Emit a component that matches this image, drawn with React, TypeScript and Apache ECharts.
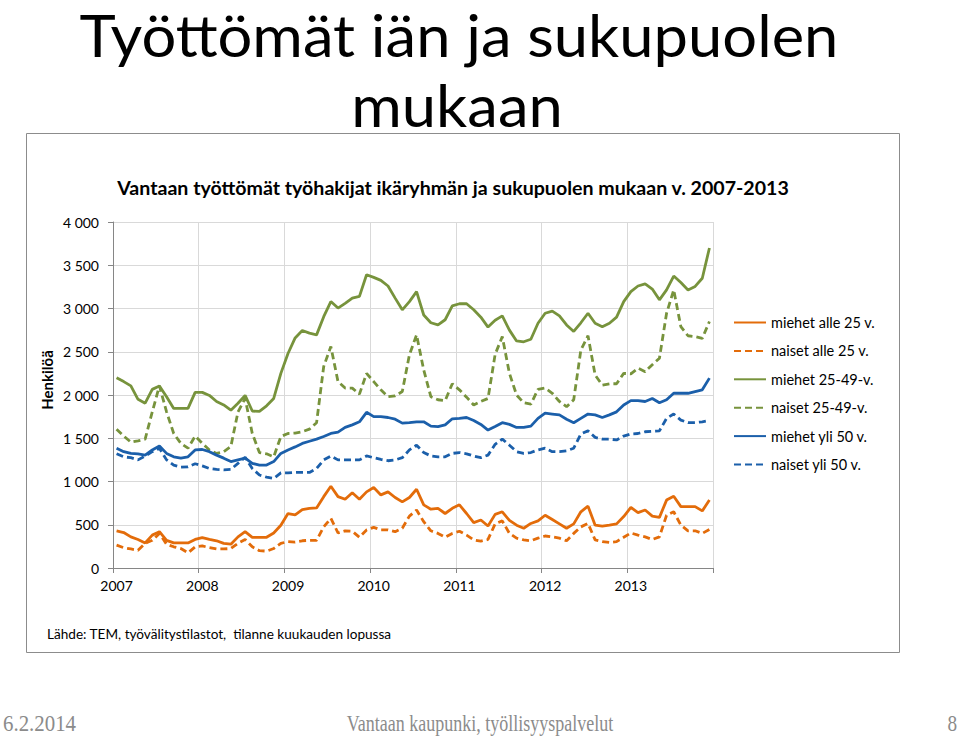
import React, { useEffect, useRef } from "react";
import * as echarts from "echarts";

const years = ["2007", "2008", "2009", "2010", "2011", "2012", "2013"];
const months = ["01", "02", "03", "04", "05", "06", "07", "08", "09", "10", "11", "12"];
const categories: string[] = [];
years.forEach((y) => months.forEach((m) => categories.push(y + "-" + m)));

const seriesNames = [
  "miehet alle 25 v.",
  "naiset alle 25 v.",
  "miehet 25-49-v.",
  "naiset 25-49-v.",
  "miehet yli 50 v.",
  "naiset yli 50 v.",
];

const miehetAlle25 = [
  430, 410, 360, 330, 290, 380, 420, 320, 290, 290, 290, 330,
  350, 330, 315, 285, 275, 360, 420, 355, 355, 355, 405, 495,
  630, 615, 675, 690, 695, 825, 945, 825, 795, 870, 795, 880,
  930, 845, 880, 815, 765, 815, 910, 730, 680, 690, 630, 690,
  730, 630, 525, 555, 485, 620, 650, 550, 495, 460, 515, 545,
  610, 560, 510, 460, 510, 650, 715, 495, 485, 495, 510, 595,
  700, 640, 670, 600, 585, 785, 830, 710, 710, 710, 660, 785,
];
const naisetAlle25 = [
  265, 235, 220, 205, 285, 320, 400, 275, 245, 225, 175, 245,
  255, 235, 220, 220, 225, 285, 330, 245, 200, 195, 225, 285,
  305, 300, 315, 320, 320, 475, 575, 405, 430, 425, 355, 440,
  470, 440, 440, 420, 460, 600, 670, 535, 430, 400, 355, 400,
  425, 380, 325, 310, 330, 510, 545, 400, 345, 325, 315, 345,
  370, 360, 345, 315, 400, 475, 515, 325, 305, 295, 305, 355,
  405, 380, 360, 330, 360, 610, 650, 495, 430, 430, 400, 445,
];
const miehet2549 = [
  2200, 2155, 2105, 1950, 1905, 2065, 2105, 1980, 1845, 1845, 1845, 2030,
  2030, 1995, 1925, 1885, 1825, 1905, 1995, 1815, 1810, 1875, 1960, 2250,
  2480, 2660, 2745, 2715, 2695, 2905, 3080, 3005, 3060, 3120, 3140, 3390,
  3360, 3325, 3260, 3120, 2985, 3080, 3195, 2925, 2835, 2810, 2870, 3030,
  3055, 3055, 2985, 2900, 2785, 2865, 2915, 2750, 2625, 2615, 2645, 2830,
  2945, 2970, 2915, 2810, 2735, 2835, 2945, 2830, 2790, 2830, 2900, 3080,
  3195, 3260, 3285, 3225, 3100, 3215, 3375, 3300, 3215, 3255, 3350, 3700,
];
const naiset2549 = [
  1605, 1525, 1455, 1470, 1490, 1805, 2105, 1805, 1555, 1440, 1385, 1525,
  1440, 1365, 1325, 1345, 1405, 1805, 1960, 1555, 1335, 1320, 1285, 1520,
  1555, 1560, 1575, 1605, 1680, 2330, 2560, 2155, 2080, 2080, 2010, 2250,
  2155, 2060, 1980, 1990, 2040, 2465, 2695, 2290, 1980, 1945, 1935, 2130,
  2060, 1975, 1885, 1925, 1960, 2470, 2675, 2250, 2000, 1910, 1895, 2065,
  2080, 2020, 1925, 1865, 1945, 2520, 2685, 2230, 2115, 2130, 2130, 2250,
  2245, 2310, 2270, 2350, 2425, 2945, 3215, 2790, 2685, 2675, 2655, 2850,
];
const miehetYli50 = [
  1385, 1345, 1325, 1320, 1305, 1365, 1410, 1325, 1285, 1270, 1285, 1365,
  1370, 1345, 1305, 1270, 1230, 1250, 1270, 1210, 1190, 1190, 1230, 1325,
  1365, 1400, 1440, 1465, 1490, 1520, 1555, 1570, 1625, 1655, 1690, 1800,
  1750, 1750, 1740, 1720, 1675, 1680, 1690, 1690, 1640, 1635, 1655, 1725,
  1730, 1740, 1705, 1660, 1595, 1635, 1680, 1660, 1625, 1625, 1640, 1730,
  1790, 1780, 1770, 1720, 1680, 1730, 1780, 1770, 1740, 1770, 1805, 1885,
  1935, 1935, 1925, 1960, 1910, 1945, 2020, 2020, 2020, 2040, 2060, 2195,
];
const naisetYli50 = [
  1320, 1285, 1275, 1250, 1295, 1345, 1385, 1250, 1190, 1165, 1170, 1205,
  1180, 1150, 1140, 1135, 1140, 1210, 1280, 1150, 1075, 1050, 1035, 1100,
  1100, 1105, 1105, 1105, 1150, 1250, 1295, 1250, 1250, 1250, 1250, 1295,
  1275, 1255, 1240, 1250, 1275, 1365, 1420, 1335, 1295, 1285, 1285, 1325,
  1335, 1320, 1295, 1275, 1305, 1430, 1490, 1420, 1345, 1325, 1335, 1365,
  1385, 1345, 1345, 1355, 1385, 1550, 1585, 1510, 1490, 1490, 1480, 1525,
  1550, 1555, 1575, 1580, 1585, 1730, 1780, 1710, 1680, 1680, 1690, 1705,
];

const seriesData = [miehetAlle25, naisetAlle25, miehet2549, naiset2549, miehetYli50, naisetYli50];
const seriesColors = ["#E36C0A", "#E36C0A", "#77933C", "#77933C", "#1B5FAA", "#1B5FAA"];

const slideTitle = ["Työttömät iän ja sukupuolen", "mukaan"];
const chartTitle = "Vantaan työttömät työhakijat ikäryhmän ja sukupuolen mukaan v. 2007-2013";
const yAxisName = "Henkilöä";
const sourceText = "Lähde: TEM, työvälitystilastot,  tilanne kuukauden lopussa";
const footerDate = "6.2.2014";
const footerCenter = "Vantaan kaupunki, työllisyyspalvelut";
const footerPage = "8";

export default function App() {
  const ref = useRef<HTMLDivElement>(null);
  useEffect(() => {
    if (!ref.current) return;
    const chart = echarts.init(ref.current, undefined, { renderer: "svg" });
    const font = "Lato";
    const option: any = {
      animation: false,
      backgroundColor: "#ffffff",
      textStyle: { fontFamily: font },
      grid: { left: 113, top: 222, width: 600, height: 346 },
      xAxis: {
        type: "category",
        data: categories,
        boundaryGap: true,
        axisLine: { lineStyle: { color: "#868686", width: 1 } },
        axisTick: { show: true, interval: 11, length: 5, lineStyle: { color: "#868686" } },
        axisLabel: {
          interval: 11,
          formatter: (v: string) => v.slice(0, 4),
          color: "#000",
          fontSize: 14,
          fontFamily: font,
          margin: 10,
        },
        splitLine: { show: true, interval: 11, lineStyle: { color: "#d9d9d9", width: 1 } },
      },
      yAxis: {
        type: "value",
        min: 0,
        max: 4000,
        interval: 500,
        axisLine: { show: true, lineStyle: { color: "#868686", width: 1 } },
        axisTick: { show: true, length: 5, lineStyle: { color: "#868686" } },
        axisLabel: {
          formatter: (v: number) => String(v).replace(/\B(?=(\d{3})+(?!\d))/g, " "),
          color: "#000",
          fontSize: 14,
          fontFamily: font,
          margin: 14,
        },
        splitLine: { show: true, lineStyle: { color: "#d9d9d9", width: 1 } },
      },
      legend: {
        orient: "vertical",
        left: 728,
        top: 310,
        itemWidth: 32,
        itemHeight: 14,
        itemGap: 13.4,
        itemStyle: { opacity: 0 },
        textStyle: { fontSize: 14.5, color: "#000", fontFamily: font },
        data: seriesNames,
      },
      series: seriesNames.map((name, i) => ({
        name,
        type: "line",
        data: seriesData[i],
        symbol: "none",
        showSymbol: false,
        itemStyle: { color: seriesColors[i] },
        lineStyle: {
          color: seriesColors[i],
          width: 2.8,
          type: i % 2 === 0 ? "solid" : [7, 4],
        },
        z: 3,
      })),
      graphic: [
        {
          type: "rect",
          shape: { x: 26.5, y: 133.5, width: 873, height: 519 },
          style: { fill: "none", stroke: "#8c8c8c", lineWidth: 1 },
          z: 0,
        },
        {
          type: "text",
          x: 459,
          y: 35,
          scaleX: 1.06,
          style: {
            text: slideTitle[0],
            font: "58px Lato",
            fill: "#000",
            textAlign: "center",
            textVerticalAlign: "middle",
          },
        },
        {
          type: "text",
          x: 457,
          y: 105,
          scaleX: 1.06,
          style: {
            text: slideTitle[1],
            font: "58px Lato",
            fill: "#000",
            textAlign: "center",
            textVerticalAlign: "middle",
          },
        },
        {
          type: "text",
          x: 453,
          y: 187,
          style: {
            text: chartTitle,
            font: "bold 19.6px Lato",
            fill: "#000",
            textAlign: "center",
            textVerticalAlign: "middle",
          },
        },
        {
          type: "text",
          x: 47,
          y: 380,
          rotation: Math.PI / 2,
          style: {
            text: yAxisName,
            font: "bold 15px Lato",
            fill: "#000",
            textAlign: "center",
            textVerticalAlign: "middle",
          },
        },
        {
          type: "text",
          x: 47,
          y: 634,
          style: {
            text: sourceText,
            font: "13.6px Lato",
            fill: "#000",
            textAlign: "left",
            textVerticalAlign: "middle",
          },
        },
        {
          type: "text",
          x: 3,
          y: 723,
          scaleX: 0.87,
          style: {
            text: footerDate,
            font: "24px 'Liberation Serif'",
            fill: "#8b8b8b",
            textAlign: "left",
            textVerticalAlign: "middle",
          },
        },
        {
          type: "text",
          x: 480,
          y: 723,
          scaleX: 0.75,
          style: {
            text: footerCenter,
            font: "24px 'Liberation Serif'",
            fill: "#8b8b8b",
            textAlign: "center",
            textVerticalAlign: "middle",
          },
        },
        {
          type: "text",
          x: 957,
          y: 723,
          scaleX: 0.8,
          style: {
            text: footerPage,
            font: "24px 'Liberation Serif'",
            fill: "#8b8b8b",
            textAlign: "right",
            textVerticalAlign: "middle",
          },
        },
      ],
    };
    chart.setOption(option);
    return () => chart.dispose();
  }, []);
  return (
    <div
      ref={ref}
      style={{ position: "fixed", left: 0, top: 0, width: 960, height: 737, background: "#fff" }}
    />
  );
}
